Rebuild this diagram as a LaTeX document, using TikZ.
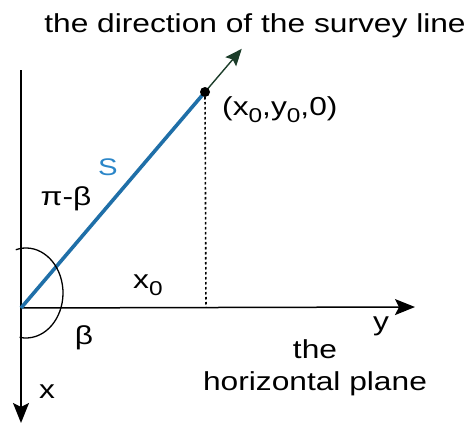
\documentclass[tikz,border=0pt]{standalone}
\usepackage{fontspec}
\setmainfont{Liberation Sans}
\usetikzlibrary{arrows.meta,calc}
\definecolor{lineblue}{HTML}{1F6FA8}
\definecolor{textblue}{HTML}{2B86C8}
\definecolor{dirgreen}{HTML}{1C3D2A}
\newcommand{\wide}[1]{\scalebox{1.22}[1]{#1}}
\newcommand{\sub}[1]{\raisebox{-0.3em}{\fontsize{20}{20}\selectfont #1}}
\tikzset{
  axis/.style={line width=1.5pt, -{Stealth[length=20pt,width=16pt,inset=4pt]}},
  lbl/.style={inner sep=0pt, anchor=base, font=\fontsize{26}{28}\selectfont},
  arcline/.style={line width=1.3pt},
}
\begin{document}
\begin{tikzpicture}[x=1pt,y=-1pt]
\useasboundingbox (0,0) rectangle (467,423);
\coordinate (o) at (21,308);
\coordinate (xtop) at (21,70);
\coordinate (xtip) at (21,423);
\coordinate (ytip) at (415,307);
\coordinate (p) at (205,92);
\coordinate (pfoot) at (206,307);
\coordinate (dirtip) at ($(o)!1.2!(p)$);
\coordinate (ac) at (26,293);
% axes
\draw[axis] (xtop) -- (xtip);
\draw[axis] (o) -- (ytip);
% dotted projection
\draw[line width=1.6pt, dash pattern=on 2.5pt off 2.5pt] (p) -- (pfoot);
% direction arrow
\draw[dirgreen, line width=1.4pt, -{Stealth[length=17pt,width=14pt,inset=3pt]}] (o) -- (dirtip);
% survey line
\draw[lineblue, line width=3.6pt] (o) -- (p);
\fill (p) circle (5pt);
% angle arc
\draw[arcline] (ac) ++(-106:37 and 45) arc[start angle=-106, end angle=100, x radius=37, y radius=45];
% labels
\node[lbl] (title) at (255,33) {\wide{the direction of the survey line}};
\node[lbl, anchor=base west] (pt) at (222,115) {\wide{(x\sub{0},y\sub{0},0)}};
\node[lbl, text=textblue, font=\fontsize{24}{26}\selectfont] (s) at (108,175) {\wide{S}};
\node[lbl] (pib) at (66,205) {\wide{π-β}};
\node[lbl, anchor=base west] (x0) at (133,288) {\wide{x\sub{0}}};
\node[lbl] (beta) at (84,344) {\wide{β}};
\node[lbl] (ylab) at (381,330) {\wide{y}};
\node[lbl] (xlab) at (47,398) {\wide{x}};
\node[lbl] (the) at (315,358) {\wide{the}};
\node[lbl] (hp) at (315,390) {\wide{horizontal plane}};
\end{tikzpicture}
\end{document}
